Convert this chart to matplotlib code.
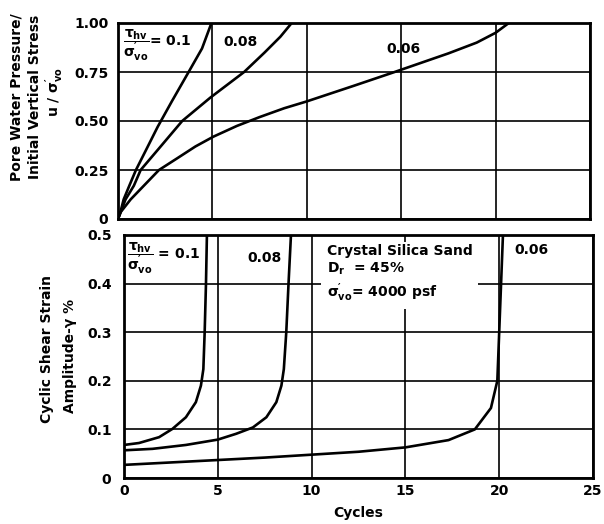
import matplotlib
matplotlib.use("Agg")
import matplotlib.pyplot as plt

plt.rcParams["font.family"] = ["DejaVu Sans"]
plt.rcParams["font.weight"] = "bold"
plt.rcParams["mathtext.default"] = "regular"
plt.rcParams["mathtext.fontset"] = "dejavusans"

# Pore pressure ratio u/sigma'vo versus cycles, one curve per stress ratio
pp_cycles_10 = [0, 0.14, 0.3, 0.6, 0.95, 1.5, 2.1, 2.85, 3.8, 4.45, 4.95]
pp_ratio_10 = [0, 0.04, 0.1, 0.17, 0.25, 0.355, 0.47, 0.6, 0.76, 0.87, 1.0]

pp_cycles_08 = [0, 0.14, 0.4, 0.84, 1.2, 2.17, 3.4, 4.9, 6.68, 7.77, 8.6, 9.2]
pp_ratio_08 = [0, 0.035, 0.1, 0.17, 0.25, 0.36, 0.5, 0.62, 0.75, 0.85, 0.93, 1.0]

pp_cycles_06 = [0, 0.14, 0.67, 1.37, 2.17, 3.14, 4.1, 5.05, 6.3, 7.5, 8.8, 10,
                12.5, 14.65, 17.5, 19.0, 20.0, 20.7]
pp_ratio_06 = [0, 0.035, 0.1, 0.17, 0.25, 0.31, 0.37, 0.42, 0.475, 0.52, 0.565,
               0.6, 0.68, 0.75, 0.845, 0.9, 0.95, 1.0]

# Cyclic shear strain amplitude (%) versus cycles
ss_cycles_10 = [0, 0.8, 1.87, 2.58, 3.3, 3.83, 4.1, 4.23, 4.3, 4.37, 4.42]
ss_strain_10 = [0.068, 0.072, 0.084, 0.101, 0.125, 0.156, 0.19, 0.224, 0.3,
                0.4, 0.5]

ss_cycles_08 = [0, 1.52, 3.3, 5.0, 5.98, 6.87, 7.59, 8.12, 8.39, 8.52, 8.65,
                8.77, 8.9]
ss_strain_08 = [0.057, 0.06, 0.068, 0.079, 0.091, 0.104, 0.125, 0.156, 0.19,
                0.224, 0.3, 0.4, 0.5]

ss_cycles_06 = [0, 2.5, 5.0, 7.5, 10, 12.5, 15, 17.3, 18.7, 19.56, 19.9,
                20.0, 20.1, 20.2]
ss_strain_06 = [0.027, 0.032, 0.037, 0.042, 0.048, 0.054, 0.063, 0.078, 0.1,
                0.144, 0.2, 0.3, 0.4, 0.5]

x_ticks = [0, 5, 10, 15, 20, 25]
pp_ticks = [0, 0.25, 0.5, 0.75, 1.0]
pp_tick_labels = ["0", "0.25", "0.50", "0.75", "1.00"]
ss_ticks = [0, 0.1, 0.2, 0.3, 0.4, 0.5]
ss_tick_labels = ["0", "0.1", "0.2", "0.3", "0.4", "0.5"]

W, H = 604, 524
fig = plt.figure(figsize=(W / 100, H / 100), dpi=100)
ax1 = fig.add_axes([118 / W, (H - 219) / H, (590 - 118) / W, (219 - 23) / H])
ax2 = fig.add_axes([124 / W, (H - 478) / H, (593 - 124) / W, (478 - 235) / H])

FS = 10
LW_CURVE = 1.9
LW_GRID = 1.2
RATIO = r"$\dfrac{\tau_{hv}}{\sigma^{\prime}_{vo}}$"

for ax in (ax1, ax2):
    ax.set_xlim(0, 25)
    ax.set_xticks(x_ticks)
    ax.grid(True, color="black", linewidth=LW_GRID)
    ax.set_axisbelow(True)
    for sp in ax.spines.values():
        sp.set_linewidth(2.0)
    ax.tick_params(length=0, labelsize=FS)

# upper panel
ax1.set_ylim(0, 1.0)
ax1.set_yticks(pp_ticks)
ax1.set_yticklabels(pp_tick_labels)
ax1.tick_params(axis="y", pad=7)
ax1.tick_params(axis="x", labelbottom=False)
for xs, ys in ((pp_cycles_10, pp_ratio_10), (pp_cycles_08, pp_ratio_08),
               (pp_cycles_06, pp_ratio_06)):
    ax1.plot(xs, ys, color="black", linewidth=LW_CURVE, solid_capstyle="round",
             solid_joinstyle="round")

ax1.text(0.25, 0.885, RATIO + "= 0.1", fontsize=FS, va="center", ha="left")
ax1.text(5.6, 0.905, "0.08", fontsize=FS, va="center", ha="left")
ax1.text(14.2, 0.865, "0.06", fontsize=FS, va="center", ha="left")

# lower panel
ax2.set_ylim(0, 0.5)
ax2.set_yticks(ss_ticks)
ax2.set_yticklabels(ss_tick_labels)
ax2.tick_params(axis="y", pad=9)
ax2.tick_params(axis="x", pad=4)
for xs, ys in ((ss_cycles_10, ss_strain_10), (ss_cycles_08, ss_strain_08),
               (ss_cycles_06, ss_strain_06)):
    ax2.plot(xs, ys, color="black", linewidth=LW_CURVE, solid_capstyle="round",
             solid_joinstyle="round")

ax2.text(0.15, 0.452, RATIO + " = 0.1", fontsize=FS, va="center", ha="left")
ax2.text(6.55, 0.453, "0.08", fontsize=FS, va="center", ha="left")
ax2.text(20.8, 0.47, "0.06", fontsize=FS, va="center", ha="left")
ax2.text(10.8, 0.42,
         "Crystal Silica Sand\nD$_r$  = 45%\n$\\sigma^{\\prime}_{vo}$= 4000 psf",
         fontsize=FS, va="center", ha="left", linespacing=1.25,
         bbox=dict(facecolor="white", edgecolor="none", pad=4))

ax2.set_xlabel("Cycles", fontsize=FS, fontweight="bold", labelpad=6)

# rotated axis titles
fig.text(17 / W, 1 - 97 / H, "Pore Water Pressure/", rotation=90,
         fontsize=FS, ha="center", va="center")
fig.text(35 / W, 1 - 97 / H, "Initial Vertical Stress", rotation=90,
         fontsize=FS, ha="center", va="center")
fig.text(55 / W, 1 - 92 / H, r"u / $\sigma^{\prime}_{vo}$", rotation=90,
         fontsize=FS, ha="center", va="center")
fig.text(47 / W, 1 - 349 / H, "Cyclic Shear Strain", rotation=90,
         fontsize=FS, ha="center", va="center")
fig.text(70 / W, 1 - 356 / H, "Amplitude-γ %", rotation=90,
         fontsize=FS, ha="center", va="center")

fig.savefig("out.png", dpi=100, facecolor="white")
